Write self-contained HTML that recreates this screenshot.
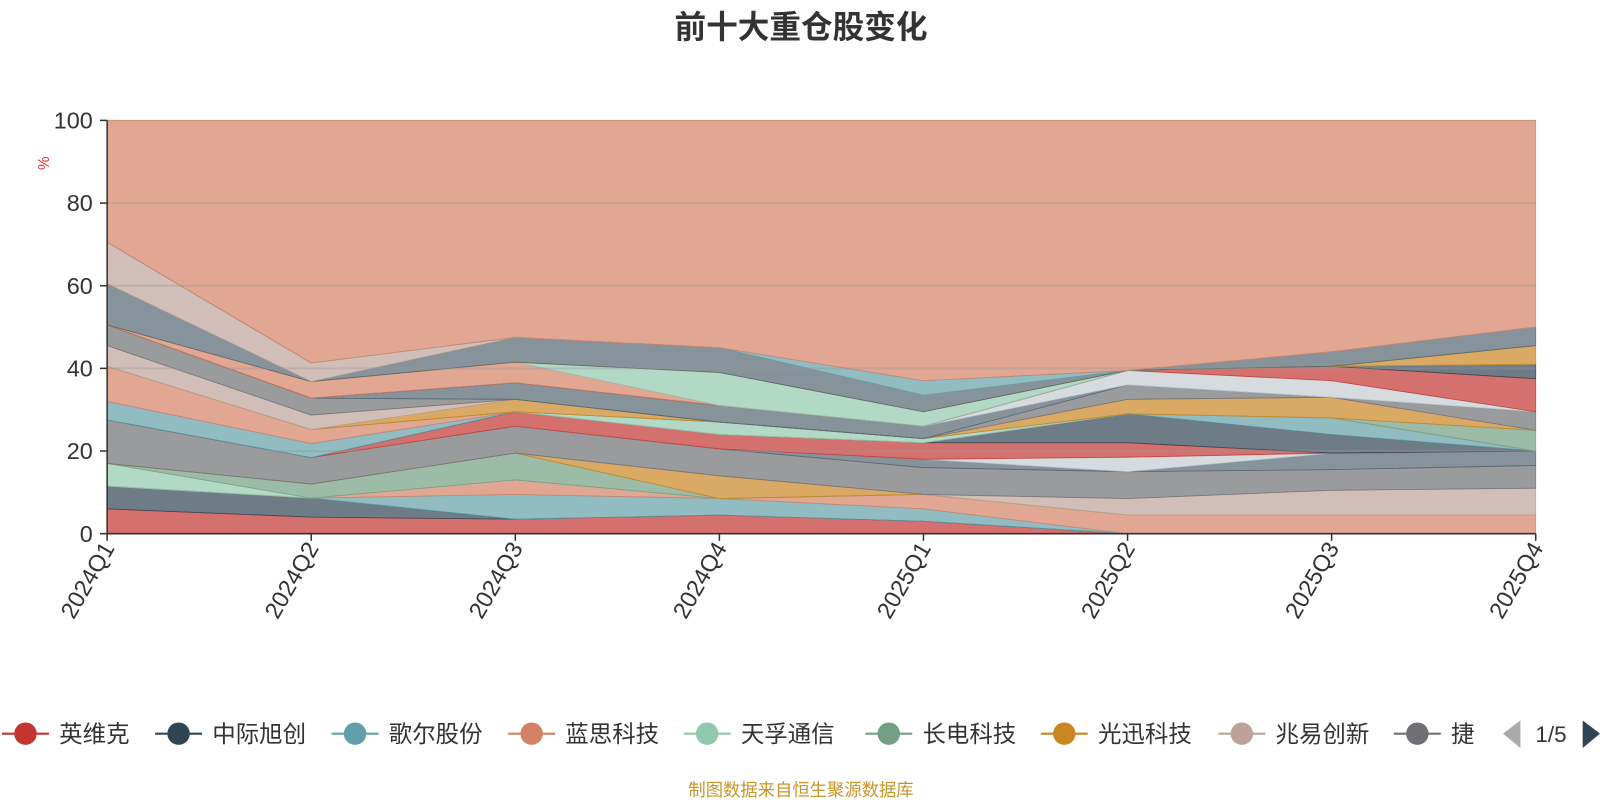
<!DOCTYPE html>
<html><head><meta charset="utf-8">
<style>
html,body{margin:0;padding:0;background:#fff;}
body{width:1600px;height:800px;overflow:hidden;font-family:"Liberation Sans","Noto Sans CJK SC",sans-serif;}
</style></head>
<body>
<svg id="chart" width="1600" height="800" viewBox="0 0 1568 784" xmlns="http://www.w3.org/2000/svg">
<text x="785" y="37" text-anchor="middle" font-size="31" font-weight="bold" fill="#333" font-family="Liberation Sans, Noto Sans CJK SC, sans-serif">前十大重仓股变化</text>
<text x="0" y="0" transform="translate(48,160) rotate(-90)" text-anchor="middle" font-size="15" fill="#e03030">%</text>
<g id="areas"></g>
<g id="grid"></g>
<g id="axes"></g>
<g id="legend"></g>
<text x="785" y="780" text-anchor="middle" font-size="17" fill="#c8952a" font-family="Liberation Sans, Noto Sans CJK SC, sans-serif">制图数据来自恒生聚源数据库</text>
</svg>
<script>
const categories = ["2024Q1","2024Q2","2024Q3","2024Q4","2025Q1","2025Q2","2025Q3","2025Q4"];
const yTicks = [0,20,40,60,80,100];
const legendNames = ["英维克","中际旭创","歌尔股份","蓝思科技","天孚通信","长电科技","光迅科技","兆易创新","捷"];
const legendColors = ["#c23531","#2f4554","#61a0a8","#d48265","#91c7ae","#749f83","#ca8622","#bda29a","#6e7074"];
const seriesColors = ["#c23531","#2f4554","#61a0a8","#d48265","#91c7ae","#749f83","#ca8622","#bda29a","#6e7074","#546570","#c4ccd3","#c23531","#2f4554","#61a0a8","#d48265","#91c7ae","#749f83","#ca8622","#bda29a","#6e7074","#546570","#c4ccd3","#c23531","#2f4554","#d48265","#91c7ae","#ca8622","#546570","#bda29a","#61a0a8"];
const s1=[6,4,3.5,4.5,3,0,0,0];
const s2=[5.5,4.6,0,0,0,0,0,0];
const s3=[0,0,6,4,3,0,0,0];
const s4=[0,0,3.5,0,3.5,4.5,4.5,4.5];
const s5=[5.5,0,0,0,0,0,0,0];
const s6=[0,3.4,6.5,0,0,0,0,0];
const s7=[0,0,0,5.5,0,0,0,0];
const s8=[0,0,0,0,0,4,6,6.5];
const s9=[10.5,6.4,6.5,6.5,6.5,6.5,5,5.5];
const s10=[0,0,0,0,2,0,4,3.5];
const s11=[0,0,0,0,0,3.5,0,0];
const s12=[0,0,3.5,3.5,4,3.5,0,0];
const s13=[0,0,0,0,0,7,4.5,0];
const s14=[4.5,3.4,0,0,0,0,4,0];
const s15=[8.5,3.4,0,0,0,0,0,0];
const s16=[0,0,0,3,1,0,0,0];
const s17=[0,0,0,0,0,0,0,5];
const s18=[0,0,3,0,0,3.5,5,0];
const s19=[5,3.5,0,0,0,0,0,0];
const s20=[5,4.1,0,0,0,3.5,0,4.5];
const s21=[0,0,4,4,3,0,0,0];
const s22=[0,0,0,0,0,3.5,4,0];
const s23=[0,0,0,0,0,0,3.5,8];
const s24=[0,0,0,0,0,0,0,3.5];
const s25=[0,4,5,0,0,0,0,0];
const s26=[0,0,0,8,3.5,0,0,0];
const s27=[0,0,0,0,0,0,0,4.5];
const s28=[10,0,6,6,4,0,3.5,4.5];
const s29=[10,4.5,0,0,0,0,0,0];
const s30=[0,0,0,0,3.5,0,0,0];
const seriesList=[s1,s2,s3,s4,s5,s6,s7,s8,s9,s10,s11,s12,s13,s14,s15,s16,s17,s18,s19,s20,s21,s22,s23,s24,s25,s26,s27,s28,s29,s30];

const NS="http://www.w3.org/2000/svg";
const X0=105,X1=1505,Y0=523,Y1=118;
function xs(i){return X0+(X1-X0)*i/(categories.length-1);}
function ys(v){return Y0-(Y0-Y1)*v/100;}
function mk(tag,attrs,parent){const e=document.createElementNS(NS,tag);for(const k in attrs)e.setAttribute(k,attrs[k]);parent.appendChild(e);return e;}

const areas=document.getElementById('areas');
let base=categories.map(()=>0);
const all=seriesList.slice();
const other=categories.map((c,i)=>100-seriesList.reduce((a,s)=>a+s[i],0));
all.push(other);
const colors=seriesColors.concat(["#d48265"]);
all.forEach((s,k)=>{
  const top=base.map((b,i)=>b+s[i]);
  let d="";
  top.forEach((v,i)=>{d+=(i?"L":"M")+xs(i)+","+ys(v);});
  for(let i=base.length-1;i>=0;i--)d+="L"+xs(i)+","+ys(base[i]);
  d+="Z";
  const p=mk('path',{d:d,fill:colors[k],'fill-opacity':0.7,stroke:colors[k],'stroke-width':0.8,'stroke-opacity':0.8},areas);
  
  
  base=top;
});

const grid=document.getElementById('grid');
yTicks.forEach(t=>{
  if(t===0)return;
  const l=mk('line',{x1:X0,x2:X1,y1:ys(t),y2:ys(t),stroke:'#999','stroke-opacity':t===100?0.2:0.35,'stroke-width':2},grid);
  
  
});

const axes=document.getElementById('axes');
mk('line',{x1:X0,x2:X0,y1:Y1,y2:Y0,stroke:'#333','stroke-width':1.5},axes);
mk('line',{x1:X0,x2:X1,y1:Y0,y2:Y0,stroke:'#333','stroke-width':1.5},axes);
yTicks.forEach(t=>{
  mk('line',{x1:X0-7,x2:X0,y1:ys(t),y2:ys(t),stroke:'#333','stroke-width':1.5},axes);
  const tx=mk('text',{x:X0-14,y:ys(t)+8,'text-anchor':'end','font-size':23,fill:'#333'},axes);
  tx.textContent=t;
  
  
});
categories.forEach((c,i)=>{
  mk('line',{x1:xs(i),x2:xs(i),y1:Y0,y2:Y0+7,stroke:'#333','stroke-width':1.5},axes);
  const tx=mk('text',{x:0,y:0,transform:'translate('+(xs(i)+8)+','+(Y0+14)+') rotate(-60)','text-anchor':'end','font-size':23,fill:'#333'},axes);
  tx.textContent=c;
  
  
});

const legend=document.getElementById('legend');
const lx=[0,150,323,496,668,846,1018,1192,1364];
legendNames.forEach((n,i)=>{
  const g=mk('g',{},legend);
  
  
  mk('line',{x1:lx[i]+2,x2:lx[i]+48,y1:719,y2:719,stroke:legendColors[i],'stroke-width':2},g);
  mk('circle',{cx:lx[i]+25,cy:719,r:11,fill:legendColors[i]},g);
  const t=mk('text',{x:lx[i]+58,y:727,'font-size':23,fill:'#333'},g);
  t.textContent=n;
});
const pl=mk('path',{d:'M1490,706 L1473,719 L1490,733 Z',fill:'#aaa'},legend);


const pt=mk('text',{x:1520,y:727,'text-anchor':'middle','font-size':22,fill:'#333'},legend);
pt.textContent='1/5';


const pr=mk('path',{d:'M1551,706 L1568,719 L1551,733 Z',fill:'#2f4554'},legend);


</script>
</body></html>
